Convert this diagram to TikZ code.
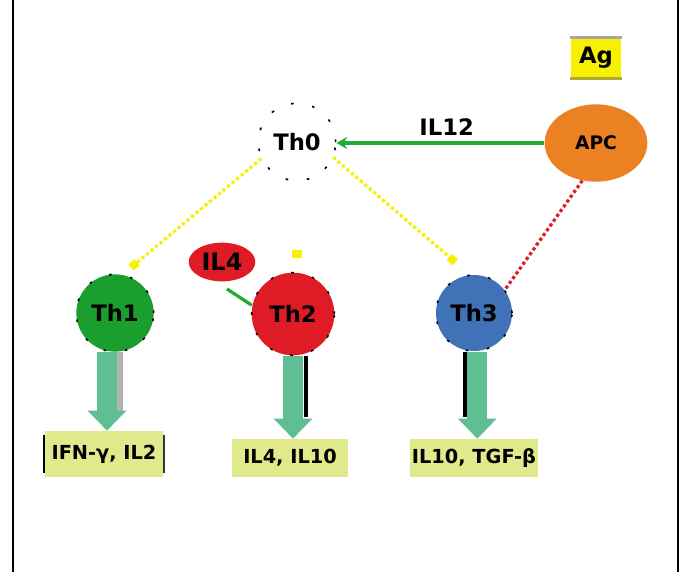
\documentclass[tikz,border=0pt]{standalone}
\usepackage{fontspec}
\setmainfont{DejaVu Sans}
\usetikzlibrary{shapes.geometric,arrows.meta,calc}
\definecolor{thgreen}{HTML}{1A9E2E}
\definecolor{thred}{HTML}{DF1B26}
\definecolor{thblue}{HTML}{4072B8}
\definecolor{apcorange}{HTML}{EC8124}
\definecolor{agyellow}{HTML}{F7F000}
\definecolor{boxfill}{HTML}{E0E98B}
\definecolor{teal}{HTML}{5FBF92}
\definecolor{linegreen}{HTML}{22AA33}
\tikzset{
  cell/.style={circle, minimum size=58pt, inner sep=0pt, font=\bfseries\fontsize{17}{17}\selectfont,
    draw=black, line width=1.2pt, dash pattern=on 2pt off 14pt},
  outbox/.style={rectangle, fill=boxfill, inner sep=0pt, minimum height=28.5pt, font=\bfseries\fontsize{14.5}{14.5}\selectfont},
  blockarrow/.style={line width=15pt, teal, -{Triangle[width=28pt,length=15pt]}},
  ydot/.style={agyellow, line width=2.4pt, dotted, -{Square[length=6pt,width=6pt]}},
}
\begin{document}
\begin{tikzpicture}[x=0.75pt,y=-0.75pt]
\useasboundingbox (0,0) rectangle (683,572);
\fill[white] (0,0) rectangle (683,572);
% frame
\draw[line width=1.5pt] (13,0) -- (13,572);
\draw[line width=1.5pt] (678,0) -- (678,572);
% nodes
\node[rectangle, fill=agyellow, minimum width=38pt, minimum height=30pt, inner sep=0pt,
  font=\bfseries\fontsize{17}{17}\selectfont] (ag) at (596,58) {Ag};
\draw[gray!70, line width=2pt] (ag.north west) -- (ag.north east);
\draw[olive!70, line width=2pt] (ag.south west) -- (ag.south east);
\node[ellipse, fill=apcorange, minimum width=77pt, minimum height=58pt, inner sep=0pt,
  font=\bfseries\fontsize{14}{14}\selectfont] (apc) at (596,143) {APC};
\node[cell, fill=white] (th0) at (297,142) {Th0};
\node[ellipse, fill=thred, minimum width=50pt, minimum height=29pt, inner sep=0pt,
  font=\bfseries\fontsize{18}{18}\selectfont] (il4) at (222,262) {IL4};
\node[cell, fill=thgreen] (th1) at (115,313) {Th1};
\node[cell, fill=thred, minimum size=62pt] (th2) at (293,314) {Th2};
\node[cell, fill=thblue, minimum size=57pt] (th3) at (474,313) {Th3};
\node[outbox, minimum width=89pt, minimum height=34.5pt] (b1) at (104,454) {IFN-γ, IL2};
\node[outbox, minimum width=87pt] (b2) at (290,458) {IL4, IL10};
\node[outbox, minimum width=96pt] (b3) at (474,458) {IL10, TGF-β};
\draw[line width=1.5pt] ([yshift=-3pt]b1.north west) -- ([yshift=3pt]b1.south west);
\draw[line width=1.5pt, black!80] ([yshift=-3pt]b1.north east) -- ([yshift=3pt]b1.south east);
% connectors
\draw[linegreen, line width=2.4pt, -{Stealth[length=8pt,width=9pt]}] (apc) -- node[above=1pt, black, font=\bfseries\fontsize{17}{17}\selectfont, pos=0.47] {IL12} (th0.east |- apc);
\draw[ydot] (th0.205) -- ([xshift=12pt,yshift=4.5pt]th1.north);
\draw[ydot] (th0.-23) -- ([xshift=-14pt,yshift=9pt]th3.north);
\draw[thred, line width=2.4pt, dotted] (apc.250) -- (th3.37);
\coordinate (ilfoot) at (227,289);
\draw[linegreen, line width=2.4pt] (ilfoot) -- (th2.168);
\coordinate (ydotmark) at (297,254);
\fill[agyellow] ($(ydotmark)+(-5,-4)$) rectangle ($(ydotmark)+(5,4)$);
% block arrows
\coordinate (a1s) at ([xshift=-6pt]th1.south);
\coordinate (a2s) at (th2.south);
\coordinate (a3s) at ([xshift=2.5pt]th3.south);
\draw[gray!60, line width=4.5pt] ([xshift=9.75pt]a1s) -- ([xshift=9.75pt]a1s |- 0,411);
\draw[blockarrow] (a1s) -- (a1s |- b1.north);
\draw[black, line width=3pt] ([xshift=9.5pt]a2s) -- ([xshift=9.5pt]a2s |- 0,417);
\draw[blockarrow] (a2s) -- (a2s |- b2.north);
\draw[black, line width=3pt] ([xshift=-9.5pt]a3s) -- ([xshift=-9.5pt]a3s |- 0,417);
\draw[blockarrow] (a3s) -- (a3s |- b3.north);
\end{tikzpicture}
\end{document}
